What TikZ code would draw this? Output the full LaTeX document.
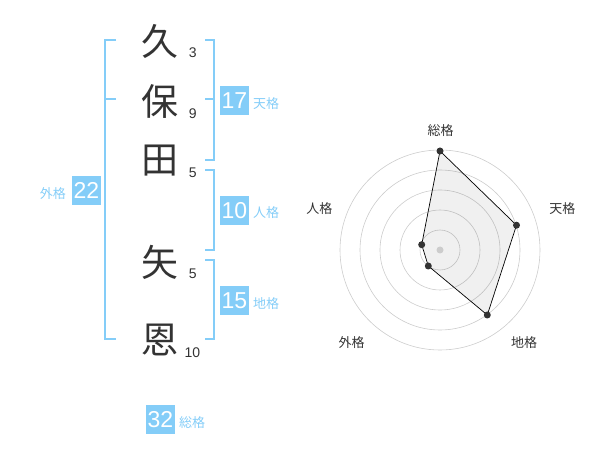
\documentclass[tikz,border=0pt]{standalone}
\usepackage{fontspec}
\setmainfont{Liberation Sans}
\newfontfamily\jp{Noto Sans CJK JP}
\definecolor{sky}{HTML}{84CDF8}
\definecolor{ink}{HTML}{333333}
\definecolor{ring}{HTML}{CCCCCC}
\begin{document}
\begin{tikzpicture}[x=1pt,y=-1pt,
  kanji/.style={font=\jp\fontsize{37}{37}\selectfont, text=ink, inner sep=0pt},
  stroke/.style={font=\fontsize{14}{14}\selectfont, text=ink, inner sep=0pt},
  brk/.style={draw=sky, line width=2pt},
  valbox/.style={fill=sky, text=white, minimum width=29pt, minimum height=29pt, inner sep=0pt, font=\fontsize{23}{23}\selectfont},
  lab/.style={text=sky, font=\jp\fontsize{13}{13}\selectfont, inner sep=0pt},
  rlab/.style={text=ink, font=\jp\fontsize{13}{13}\selectfont, inner sep=0pt},
  dot/.style={circle, fill=ink, inner sep=0pt, minimum size=7pt},
]
\useasboundingbox (0,0) rectangle (600,470);
% kanji
\node[kanji] (k1) at (160,41) {久};
\node[kanji] (k2) at (160,101) {保};
\node[kanji] (k3) at (160,161) {田};
\node[kanji] (k4) at (160,262) {矢};
\node[kanji] (k5) at (160,340) {恩};
% stroke counts
\node[stroke] (s1) at (192.7,52.7) {3};
\node[stroke] (s2) at (192.7,113.3) {9};
\node[stroke] (s3) at (192.7,172.7) {5};
\node[stroke] (s4) at (192.7,273.3) {5};
\node[stroke] (s5) at (192.5,352.7) {10};
% left bracket
\draw[brk] (116,40) -- (105,40) -- (105,339.5) -- (116,339.5);
\draw[brk] (105,99.5) -- (116,99.5);
% right brackets
\draw[brk] (205,40) -- (214.3,40) -- (214.3,160) -- (205,160);
\draw[brk] (214.3,99.5) -- (205,99.5);
\draw[brk] (205,170) -- (214.3,170) -- (214.3,250) -- (205,250);
\draw[brk] (205,260) -- (214.3,260) -- (214.3,339.5) -- (205,339.5);
% value boxes
\node[valbox] (ten) at (234.5,100.3) {17};
\node[lab, anchor=west] (tenl) at (253,103.5) {天格};
\node[valbox] (jin) at (234.5,210.5) {10};
\node[lab, anchor=west] (jinl) at (253,213) {人格};
\node[valbox] (chi) at (234.5,300.3) {15};
\node[lab, anchor=west] (chil) at (253,303.5) {地格};
\node[valbox] (gai) at (86.5,190.5) {22};
\node[lab, anchor=east] (gail) at (66,193.5) {外格};
\node[valbox] (sou) at (160.5,419.5) {32};
\node[lab, anchor=west] (soul) at (179,422.5) {総格};
% radar
\coordinate (c) at (440,250);
\foreach \r in {20,40,60,80,100} \draw[ring, line width=0.6pt] (c) circle[radius=\r];
\path (c) ++(0,-99) coordinate (pSou);
\path (c) ++(76.5,-24.8) coordinate (pTen);
\path (c) ++(47.3,65) coordinate (pChi);
\path (c) ++(-11.7,16) coordinate (pGai);
\path (c) ++(-18.3,-5.3) coordinate (pJin);
\filldraw[fill=black, fill opacity=0.06, draw=black, line width=0.7pt] (pSou) -- (pTen) -- (pChi) -- (pGai) -- (pJin) -- cycle;
\fill[ring] (c) circle[radius=3.5];
\foreach \p in {pSou,pTen,pChi,pGai,pJin} \node[dot] at (\p) {};
\node[rlab] (rs) at (440.7,130.5) {総格};
\node[rlab] (rt) at (562.3,208.3) {天格};
\node[rlab] (rc) at (524,342.3) {地格};
\node[rlab] (rg) at (351.7,342.3) {外格};
\node[rlab] (rj) at (319.3,208.3) {人格};
\end{tikzpicture}
\end{document}
